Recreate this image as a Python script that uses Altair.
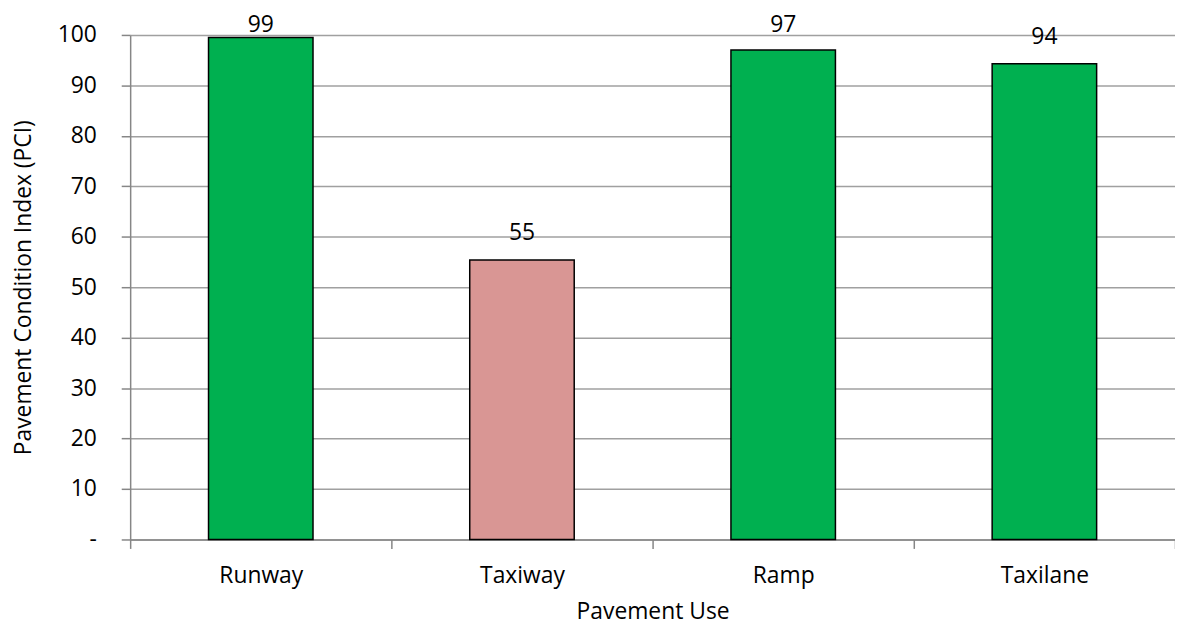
import altair as alt
import pandas as pd

categories = ["Runway", "Taxiway", "Ramp", "Taxilane"]
pci_values = [99.5, 55.4, 97.0, 94.3]
value_labels = ["99", "55", "97", "94"]
bar_colors = ["#00B050", "#D99694", "#00B050", "#00B050"]

df = pd.DataFrame({
    "use": categories,
    "pci": pci_values,
    "label": value_labels,
    "color": bar_colors,
})

FONT = "Open Sans"
FS = 23

x = alt.X(
    "use:N",
    sort=categories,
    scale=alt.Scale(paddingInner=0, paddingOuter=0),
    axis=alt.Axis(
        title="Pavement Use",
        labelAngle=0,
        tickBand="extent",
        tickSize=9,
        tickColor="#868686",
        domainColor="#868686",
        domainWidth=1.5,
        tickWidth=1.5,
        labelPadding=16,
        labelFontSize=FS,
        labelColor="#000000",
        titleFontSize=FS,
        titleFontWeight="normal",
        titleColor="#000000",
        titlePadding=14,
        grid=False,
    ),
)

y = alt.Y(
    "pci:Q",
    scale=alt.Scale(domain=[0, 100]),
    axis=alt.Axis(
        title="Pavement Condition Index (PCI)",
        values=[0, 10, 20, 30, 40, 50, 60, 70, 80, 90, 100],
        labelExpr="datum.value == 0 ? '-' : datum.label",
        tickSize=9,
        tickColor="#868686",
        tickWidth=1.5,
        domainColor="#868686",
        domainWidth=1.5,
        gridColor="#A0A0A0",
        gridWidth=1.5,
        labelPadding=25,
        labelFontSize=FS,
        labelColor="#000000",
        titleFontSize=FS,
        titleFontWeight="normal",
        titleColor="#000000",
        titlePadding=22,
    ),
)

bars = alt.Chart(df).mark_bar(
    stroke="#000000", strokeWidth=1.5, width={"band": 0.4}
).encode(
    x=x,
    y=y,
    color=alt.Color("color:N", scale=None),
)

# data labels sit above the bar, but are kept inside the plot area at the top
text = alt.Chart(df).transform_calculate(
    label_y="min(datum.pci + 2.95, 99.6)"
).mark_text(
    baseline="bottom", fontSize=FS, font=FONT, color="#000000"
).encode(
    x=alt.X("use:N", sort=categories),
    y=alt.Y("label_y:Q", scale=alt.Scale(domain=[0, 100])),
    text="label:N",
)

chart = (
    alt.layer(bars, text)
    .properties(
        width=1052,
        height=508,
        autosize=alt.AutoSizeParams(type="none"),
        padding={"left": 123, "top": 25, "right": 0, "bottom": 86},
    )
    .configure(font=FONT)
    .configure_view(stroke=None)
    .configure_axis(labelFont=FONT, titleFont=FONT)
)

chart.save("out.html", embed_options={"renderer": "svg", "actions": False})
